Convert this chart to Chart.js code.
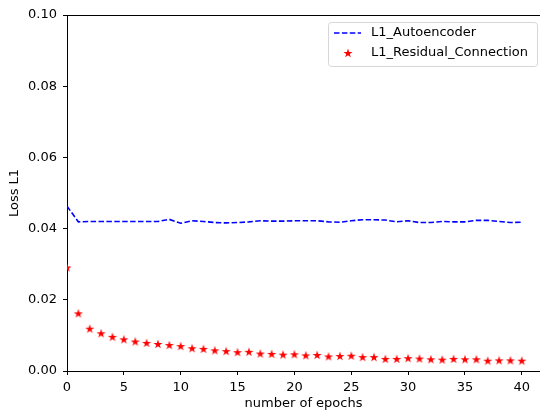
<!DOCTYPE html>
<html>
<head>
<meta charset="utf-8">
<script src="https://cdn.jsdelivr.net/npm/chart.js@4/dist/chart.umd.min.js"></script>
<style>
  html, body { margin: 0; padding: 0; background: #fff; overflow: hidden; }
  #c { display: block; }
</style>
</head>
<body>
<canvas id="c" width="540" height="411"></canvas>
<script>
// ---- data ----
const epochs = [0,1,2,3,4,5,6,7,8,9,10,11,12,13,14,15,16,17,18,19,20,21,22,23,24,25,26,27,28,29,30,31,32,33,34,35,36,37,38,39,40];
const autoencoderLoss = [0.0463,0.0419,0.0420,0.0420,0.0420,0.0420,0.0420,0.0420,0.0420,0.0426,0.0415,0.0422,0.0420,0.0417,0.0416,0.0417,0.0419,0.0422,0.0421,0.0421,0.0422,0.0422,0.0422,0.0419,0.0418,0.0422,0.0425,0.0425,0.0424,0.0419,0.0422,0.0417,0.0417,0.0420,0.0419,0.0419,0.0423,0.0423,0.0420,0.0417,0.0418];
const residualLoss = [0.0291,0.0162,0.0119,0.0106,0.0096,0.0089,0.0083,0.0079,0.0076,0.0073,0.0070,0.0064,0.0062,0.0058,0.0056,0.0053,0.0054,0.0049,0.0048,0.0046,0.0047,0.0044,0.0045,0.0041,0.0042,0.0043,0.0039,0.0039,0.0034,0.0034,0.0036,0.0035,0.0033,0.0032,0.0034,0.0033,0.0033,0.0029,0.0030,0.0030,0.0029];
const seriesLabels = ['L1_Autoencoder', 'L1_Residual_Connection'];
const xTickValues = [0,5,10,15,20,25,30,35,40];
const yTickValues = [0.00,0.02,0.04,0.06,0.08,0.10];
const xTitle = 'number of epochs';
const yTitle = 'Loss L1';

// ---- star marker ----
function makeStar(r) {
  const size = Math.ceil(r * 2 + 2);
  const cv = document.createElement('canvas');
  cv.width = size; cv.height = size;
  const g = cv.getContext('2d');
  const cx = size / 2, cy = size / 2 + 0.4;
  const inner = r * 0.381966;
  g.beginPath();
  for (let k = 0; k < 10; k++) {
    const rad = k % 2 === 0 ? r : inner;
    const a = -Math.PI / 2 + k * Math.PI / 5;
    const px = cx + rad * Math.cos(a), py = cy + rad * Math.sin(a);
    if (k === 0) g.moveTo(px, py); else g.lineTo(px, py);
  }
  g.closePath();
  g.fillStyle = '#ff0000';
  g.fill();
  return cv;
}
const starImg = makeStar(4.8);

const FONT = "'DejaVu Sans', sans-serif";
const FS = 13;

const spinePlugin = {
  id: 'spines',
  afterDraw(chart) {
    const { ctx, chartArea: a } = chart;
    ctx.save();
    ctx.strokeStyle = '#000';
    ctx.lineWidth = 1;
    ctx.beginPath();
    ctx.moveTo(a.left, a.top + 0.5);
    ctx.lineTo(a.right, a.top + 0.5);
    ctx.stroke();
    ctx.restore();
  }
};

const legendPlugin = {
  id: 'mplLegend',
  afterDraw(chart) {
    const { ctx } = chart;
    const x0 = 328.5, y0 = 22.5, w = 209, h = 44, r = 3;
    ctx.save();
    ctx.beginPath();
    ctx.moveTo(x0 + r, y0);
    ctx.lineTo(x0 + w - r, y0);
    ctx.quadraticCurveTo(x0 + w, y0, x0 + w, y0 + r);
    ctx.lineTo(x0 + w, y0 + h - r);
    ctx.quadraticCurveTo(x0 + w, y0 + h, x0 + w - r, y0 + h);
    ctx.lineTo(x0 + r, y0 + h);
    ctx.quadraticCurveTo(x0, y0 + h, x0, y0 + h - r);
    ctx.lineTo(x0, y0 + r);
    ctx.quadraticCurveTo(x0, y0, x0 + r, y0);
    ctx.closePath();
    ctx.fillStyle = 'rgba(255,255,255,0.8)';
    ctx.fill();
    ctx.strokeStyle = '#d6d6d6';
    ctx.lineWidth = 1;
    ctx.stroke();
    ctx.strokeStyle = '#0000ff';
    ctx.lineWidth = 1.6;
    ctx.setLineDash([5.5, 2.4]);
    ctx.beginPath();
    ctx.moveTo(334, 33);
    ctx.lineTo(361, 33);
    ctx.stroke();
    ctx.setLineDash([]);
    ctx.drawImage(starImg, 348 - starImg.width / 2, 53 - starImg.height / 2);
    ctx.fillStyle = '#000';
    ctx.font = FS + 'px ' + FONT;
    ctx.textBaseline = 'middle';
    ctx.textAlign = 'left';
    ctx.fillText(chart.data.datasets[0].label, 371, 33);
    ctx.fillText(chart.data.datasets[1].label, 371, 53);
    ctx.restore();
  }
};

new Chart(document.getElementById('c'), {
  type: 'line',
  data: {
    datasets: [
      {
        label: seriesLabels[0],
        data: epochs.map((e, i) => ({ x: e, y: autoencoderLoss[i] })),
        borderColor: '#0000ff',
        borderWidth: 1.6,
        borderDash: [5.5, 2.4],
        pointRadius: 0,
        fill: false,
        tension: 0
      },
      {
        label: seriesLabels[1],
        data: epochs.map((e, i) => ({ x: e, y: residualLoss[i] })),
        showLine: false,
        pointStyle: starImg,
        pointRadius: 5,
        borderColor: '#ff0000',
        backgroundColor: '#ff0000'
      }
    ]
  },
  options: {
    responsive: false,
    animation: false,
    devicePixelRatio: 1,
    layout: { autoPadding: false, padding: { left: 0, top: 15, right: 0, bottom: 0 } },
    plugins: {
      legend: { display: false },
      tooltip: { enabled: false }
    },
    scales: {
      x: {
        type: 'linear',
        min: 0,
        max: 41.6,
        afterBuildTicks(s) { s.ticks = xTickValues.map(v => ({ value: v })); },
        afterFit(s) { s.height = 40; s.paddingLeft = 0; s.paddingRight = 0; },
        grid: { drawOnChartArea: false, drawTicks: true, tickLength: 4, color: '#000', tickWidth: 1 },
        border: { display: true, color: '#000', width: 1 },
        ticks: { color: '#000', font: { family: FONT, size: FS }, padding: 4.5, maxRotation: 0,
                 callback: v => String(v) },
        title: { display: true, text: xTitle, color: '#000', font: { family: FONT, size: FS }, padding: { top: 0, bottom: 0 } }
      },
      y: {
        type: 'linear',
        min: 0,
        max: 0.1,
        afterBuildTicks(s) { s.ticks = yTickValues.map(v => ({ value: v })); },
        afterFit(s) { s.width = 67; s.paddingTop = 0; s.paddingBottom = 0; },
        grid: { drawOnChartArea: false, drawTicks: true, tickLength: 4, color: '#000', tickWidth: 1 },
        border: { display: true, color: '#000', width: 1 },
        ticks: { color: '#000', font: { family: FONT, size: FS }, padding: 6,
                 callback: v => Number(v).toFixed(2) },
        title: { display: true, text: yTitle, color: '#000', font: { family: FONT, size: FS }, padding: { top: 7, bottom: 0 } }
      }
    }
  },
  plugins: [spinePlugin, legendPlugin]
});
</script>
</body>
</html>
